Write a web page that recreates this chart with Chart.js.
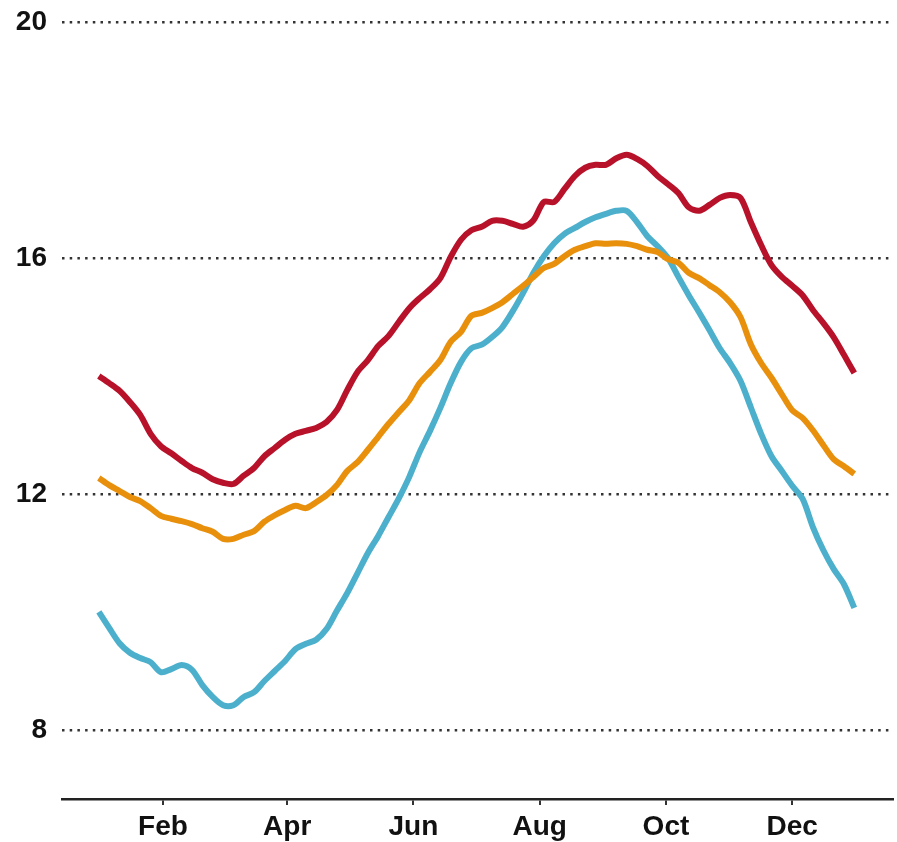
<!DOCTYPE html>
<html>
<head>
    <script src="https://cdn.jsdelivr.net/npm/chart.js@4.4.1/dist/chart.umd.min.js"></script>
    <title>Seasonal curves</title>
    <style>
        body { margin: 0; background: #fff; }
        canvas { display: block; }
    </style>
</head>

<body>
<canvas id="myChart" width="897" height="842"></canvas>

<script>
// day of year (0 = 1 Jan), sampled every 5 days
var days = [0, 5, 10, 15, 20, 25, 30, 35, 40, 45, 50, 55, 60, 65, 70, 75, 80, 85, 90, 95,
            100, 105, 110, 115, 120, 125, 130, 135, 140, 145, 150, 155, 160, 165, 170, 175, 180, 185, 190, 195,
            200, 205, 210, 215, 220, 225, 230, 235, 240, 245, 250, 255, 260, 265, 270, 275, 280, 285, 290, 295,
            300, 305, 310, 315, 320, 325, 330, 335, 340, 345, 350, 355, 360, 365];

var redVals = [14.0, 13.88, 13.75, 13.56, 13.34, 13.02, 12.81, 12.69, 12.56, 12.44, 12.36, 12.25, 12.19, 12.17, 12.31, 12.44, 12.64, 12.78, 12.92, 13.02,
               13.07, 13.12, 13.22, 13.42, 13.76, 14.07, 14.27, 14.51, 14.68, 14.92, 15.15, 15.32, 15.47, 15.66, 16.02, 16.31, 16.47, 16.53, 16.63, 16.63,
               16.58, 16.53, 16.64, 16.95, 16.95, 17.17, 17.39, 17.53, 17.58, 17.58, 17.69, 17.75, 17.68, 17.56, 17.39, 17.25, 17.10, 16.86, 16.80, 16.90,
               17.02, 17.07, 17.02, 16.61, 16.22, 15.88, 15.68, 15.53, 15.37, 15.12, 14.90, 14.66, 14.36, 14.05];

var orangeVals = [12.27, 12.15, 12.05, 11.95, 11.88, 11.76, 11.63, 11.58, 11.54, 11.49, 11.42, 11.36, 11.24, 11.24, 11.31, 11.37, 11.53, 11.64, 11.73, 11.80,
                  11.76, 11.86, 11.98, 12.15, 12.39, 12.54, 12.75, 12.97, 13.19, 13.39, 13.59, 13.88, 14.07, 14.27, 14.58, 14.75, 15.02, 15.07, 15.15, 15.25,
                  15.39, 15.53, 15.68, 15.83, 15.90, 16.03, 16.14, 16.20, 16.25, 16.24, 16.25, 16.24, 16.20, 16.14, 16.10, 15.98, 15.92, 15.75, 15.66, 15.54,
                  15.42, 15.25, 15.00, 14.54, 14.22, 13.97, 13.69, 13.42, 13.29, 13.08, 12.83, 12.59, 12.47, 12.34];

var blueVals = [10.0, 9.73, 9.47, 9.31, 9.22, 9.15, 8.98, 9.03, 9.10, 9.02, 8.76, 8.56, 8.42, 8.42, 8.56, 8.64, 8.83, 9.0, 9.17, 9.37,
                9.46, 9.53, 9.71, 10.02, 10.32, 10.66, 11.0, 11.29, 11.61, 11.93, 12.29, 12.71, 13.07, 13.46, 13.88, 14.24, 14.47, 14.53, 14.66, 14.83,
                15.10, 15.41, 15.75, 16.03, 16.25, 16.41, 16.51, 16.61, 16.69, 16.75, 16.80, 16.80, 16.61, 16.37, 16.20, 16.0, 15.68, 15.37, 15.08, 14.78,
                14.47, 14.22, 13.92, 13.47, 13.02, 12.64, 12.39, 12.14, 11.92, 11.44, 11.05, 10.73, 10.47, 10.07];

// axis ticks
var monthDays = [31, 91, 152, 213, 274, 335];
var monthLabels = ['Feb', 'Apr', 'Jun', 'Aug', 'Oct', 'Dec'];
var yTicks = [8, 12, 16, 20];

function toPoints(vals) { // pair each value with its day
    return days.map(function (d, i) { return { x: d, y: vals[i] }; });
}

function makeLine(vals, colour) {
    return {
        data: toPoints(vals),
        borderColor: colour,
        backgroundColor: colour,
        borderWidth: 6,
        pointRadius: 0,
        tension: 0.3,
        fill: false
    };
}

var tickFont = { family: "'Liberation Sans', Arial, sans-serif", size: 28, weight: 'bold' };

var ctx = document.getElementById('myChart').getContext('2d');
var myChart = new Chart(ctx, {
    type: 'line',
    data: {
        datasets: [
            makeLine(redVals, '#b8122b'),
            makeLine(orangeVals, '#e8900c'),
            makeLine(blueVals, '#4cb0cc')
        ]
    },
    options: {
        responsive: false,
        animation: false,
        layout: { padding: { top: 12, right: 4, left: 0, bottom: 0 } },
        plugins: {
            legend: { display: false },
            tooltip: { enabled: false }
        },
        scales: {
            x: {
                type: 'linear',
                min: -17.8,
                max: 383.7,
                afterBuildTicks: function (axis) {
                    axis.ticks = monthDays.map(function (d) { return { value: d }; });
                },
                afterFit: function (axis) { axis.height = 43; },
                ticks: {
                    callback: function (value) { return monthLabels[monthDays.indexOf(value)]; },
                    font: tickFont,
                    color: '#111',
                    padding: 5,
                    maxRotation: 0,
                    autoSkip: false
                },
                grid: {
                    display: true,
                    drawOnChartArea: false,
                    drawTicks: true,
                    tickLength: 6,
                    color: '#333',
                    lineWidth: 2
                },
                border: { display: true, color: '#222', width: 2.5 }
            },
            y: {
                min: 6.83,
                max: 20.17,
                afterBuildTicks: function (axis) {
                    axis.ticks = yTicks.map(function (v) { return { value: v }; });
                },
                afterFit: function (axis) {
                    axis.width = 62;
                    // keep the plot top fixed instead of reserving room for the top label
                    axis.paddingTop = 0;
                    axis.paddingBottom = 0;
                },
                ticks: {
                    font: tickFont,
                    color: '#111',
                    padding: 15
                },
                grid: {
                    drawTicks: false,
                    color: '#333',
                    lineWidth: 2.5
                },
                border: { display: false, dash: [2.5, 5.2] }
            }
        }
    }
});
</script>

</body>
</html>
